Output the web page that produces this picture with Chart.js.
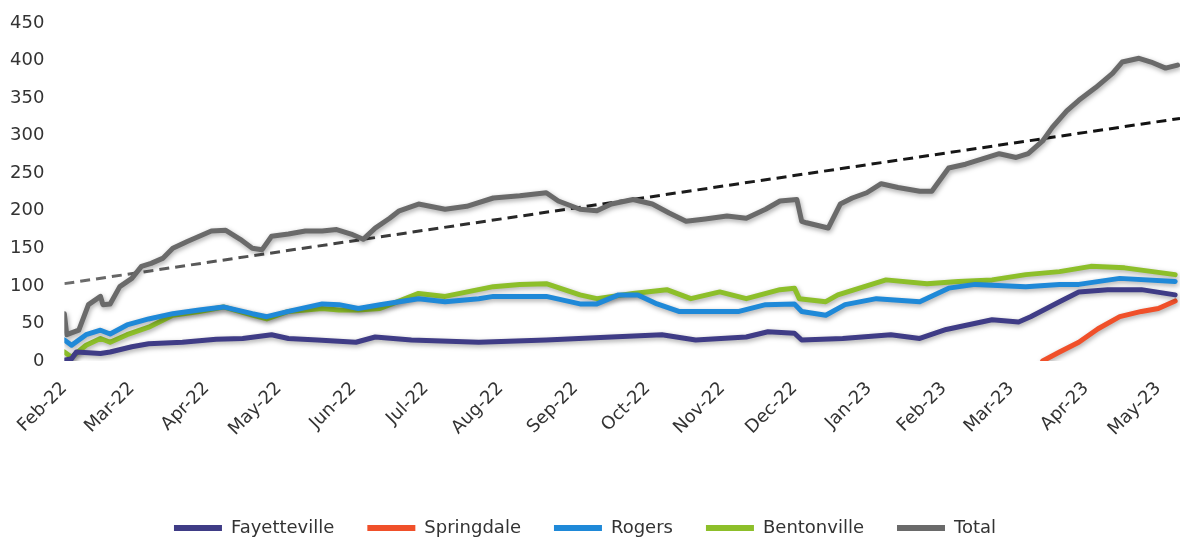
<!DOCTYPE html>
<html>
<head>
<meta charset="utf-8">
<script src="https://cdn.jsdelivr.net/npm/chart.js@4"></script>
<style>
  html, body { margin: 0; padding: 0; background: #ffffff; }
  #wrap { width: 1180px; height: 539px; }
</style>
</head>
<body>
<div id="wrap"><canvas id="c" width="1180" height="539"></canvas></div>
<script>
// Month ticks (days since 1 Feb 2022)
const monthLabels = ['Feb-22','Mar-22','Apr-22','May-22','Jun-22','Jul-22','Aug-22','Sep-22','Oct-22','Nov-22','Dec-22','Jan-23','Feb-23','Mar-23','Apr-23','May-23'];
const monthDays = [0,28,59,89,120,150,181,212,242,273,303,334,365,393,424,454];
const yTicks = [0,50,100,150,200,250,300,350,400,450];

// Series (day offset, value)
const totalDays = [0,1,6,10,15,16,19,23,28,32,36,41,45,51,56,61,67,73,78,82,86,93,100,107,113,119,124,129,135,139,147,158,167,178,189,200,205,214,221,227,236,244,251,258,266,275,283,291,297,304,306,308,317,322,327,333,339,346,355,360,367,374,381,388,395,400,406,410,416,421,428,435,439,446,451,457,462];
const totalValues = [63,35,41,75,86,75,76,99,110,126,130,137,150,159,166,173,174,162,150,148,166,169,173,173,175,169,162,177,190,200,209,202,206,217,220,224,213,202,200,209,215,209,197,186,189,193,190,202,213,215,186,184,177,209,217,224,236,231,226,226,257,262,269,276,271,276,293,311,333,347,364,383,398,403,398,390,394];

const fayDays = [0,3,5,15,19,28,35,49,63,74,86,93,105,121,129,144,172,200,227,248,262,283,292,303,306,323,343,355,366,385,396,401,413,421,433,447,461];
const fayValues = [1,3,12,10,12,19,23,25,29,30,35,30,28,25,32,28,25,28,32,35,28,32,39,37,28,30,35,30,42,55,52,59,79,92,95,95,88];

const springDays = [406,413,421,429,438,447,454,461];
const springValues = [0,12,25,43,59,66,70,80];

const rogDays = [0,3,9,15,19,26,35,45,56,66,78,84,93,107,114,122,131,147,158,172,178,200,214,221,230,238,246,255,269,280,291,303,306,316,324,337,355,367,378,399,413,421,438,461];
const rogValues = [28,21,35,41,36,48,56,63,68,72,63,59,66,76,75,70,75,83,79,83,86,86,76,76,88,88,76,66,66,66,75,76,66,61,75,83,79,97,102,99,102,102,110,106];

const benDays = [0,3,9,15,19,26,35,45,56,66,78,84,93,107,114,122,131,136,147,158,178,189,200,214,221,236,250,260,272,283,297,303,305,316,321,330,341,358,371,385,399,413,426,440,461];
const benValues = [12,5,21,30,25,35,45,61,66,72,61,56,66,70,68,68,70,76,90,86,99,102,103,88,83,90,95,83,92,83,95,97,83,79,88,97,108,103,106,108,115,119,126,124,115];

const trendDays = [0,463];
const trendValues = [103,323];

const pts = (xs, ys) => xs.map((x, i) => ({ x: x, y: ys[i] }));

const FONT = "'DejaVu Sans', sans-serif";

const shadowPlugin = {
  id: 'lineShadow',
  beforeDatasetDraw(chart, args) {
    const ctx = chart.ctx;
    ctx.save();
    if (!chart.data.datasets[args.index].isTrend) {
      ctx.shadowColor = 'rgba(0,0,0,0.35)';
      ctx.shadowBlur = 5;
      ctx.shadowOffsetX = 1;
      ctx.shadowOffsetY = 2;
    }
  },
  afterDatasetDraw(chart) {
    chart.ctx.restore();
  }
};

const legendShift = {
  id: 'legendShift',
  afterLayout(chart) {
    const l = chart.legend;
    if (l) {
      const dy = 8;
      l.top += dy; l.bottom += dy;
      if (l.legendHitBoxes) l.legendHitBoxes.forEach(b => { b.top += dy; });
    }
  }
};

function trendColor(context) {
  const chart = context.chart;
  const area = chart.chartArea;
  if (!area) return '#333333';
  const g = chart.ctx.createLinearGradient(area.left, 0, area.right, 0);
  g.addColorStop(0, '#6e6e6e');
  g.addColorStop(0.45, '#1e1e1e');
  g.addColorStop(1, '#111111');
  return g;
}

const common = { pointRadius: 0, pointHoverRadius: 0, borderWidth: 5, tension: 0, fill: false, borderCapStyle: 'round', borderJoinStyle: 'round' };

new Chart(document.getElementById('c'), {
  type: 'line',
  data: {
    datasets: [
      Object.assign({ label: 'Fayetteville', data: pts(fayDays, fayValues), borderColor: '#3f3c86', backgroundColor: '#3f3c86' }, common),
      Object.assign({ label: 'Springdale', data: pts(springDays, springValues), borderColor: '#f0502a', backgroundColor: '#f0502a' }, common),
      Object.assign({ label: 'Rogers', data: pts(rogDays, rogValues), borderColor: '#1f89d8', backgroundColor: '#1f89d8' }, common),
      Object.assign({ label: 'Bentonville', data: pts(benDays, benValues), borderColor: '#8dbf2a', backgroundColor: '#8dbf2a' }, common),
      Object.assign({ label: 'Total', data: pts(totalDays, totalValues), borderColor: '#6a6a6a', backgroundColor: '#6a6a6a' }, common),
      { label: 'Trend', isTrend: true, data: pts(trendDays, trendValues), borderColor: trendColor, borderWidth: 3, borderDash: [10, 6], pointRadius: 0, fill: false, tension: 0 }
    ]
  },
  options: {
    responsive: false,
    animation: false,
    events: [],
    layout: { padding: { left: -10, right: 0, top: 23, bottom: 0 } },
    plugins: {
      tooltip: { enabled: false },
      legend: {
        position: 'bottom',
        labels: {
          font: { family: FONT, size: 18 },
          color: '#333333',
          boxWidth: 48,
          boxHeight: 6,
          padding: 33,
          filter: (item) => item.text !== 'Trend',
          generateLabels: (chart) => {
            const items = Chart.defaults.plugins.legend.labels.generateLabels(chart);
            items.forEach(it => { it.lineWidth = 0; it.strokeStyle = 'rgba(0,0,0,0)'; });
            return items;
          }
        }
      }
    },
    scales: {
      x: {
        type: 'linear',
        min: 0,
        max: 463,
        grid: { display: false, drawTicks: false },
        border: { display: false },
        afterBuildTicks: (axis) => { axis.ticks = monthDays.map(v => ({ value: v })); },
        afterFit: (axis) => { axis.height = 117; axis.paddingLeft = 0; axis.paddingRight = 0; },
        ticks: {
          autoSkip: false,
          minRotation: 45,
          maxRotation: 45,
          padding: 17,
          color: '#333333',
          font: { family: FONT, size: 18 },
          callback: (value) => { const i = monthDays.indexOf(value); return i >= 0 ? monthLabels[i] : ''; }
        }
      },
      y: {
        min: 0,
        max: 450,
        grid: { display: false, drawTicks: false },
        border: { display: false },
        afterBuildTicks: (axis) => { axis.ticks = yTicks.map(v => ({ value: v })); },
        afterFit: (axis) => { axis.paddingTop = 0; axis.paddingBottom = 0; },
        ticks: {
          padding: 20,
          color: '#333333',
          font: { family: FONT, size: 18 }
        }
      }
    }
  },
  plugins: [shadowPlugin, legendShift]
});
</script>
</body>
</html>
